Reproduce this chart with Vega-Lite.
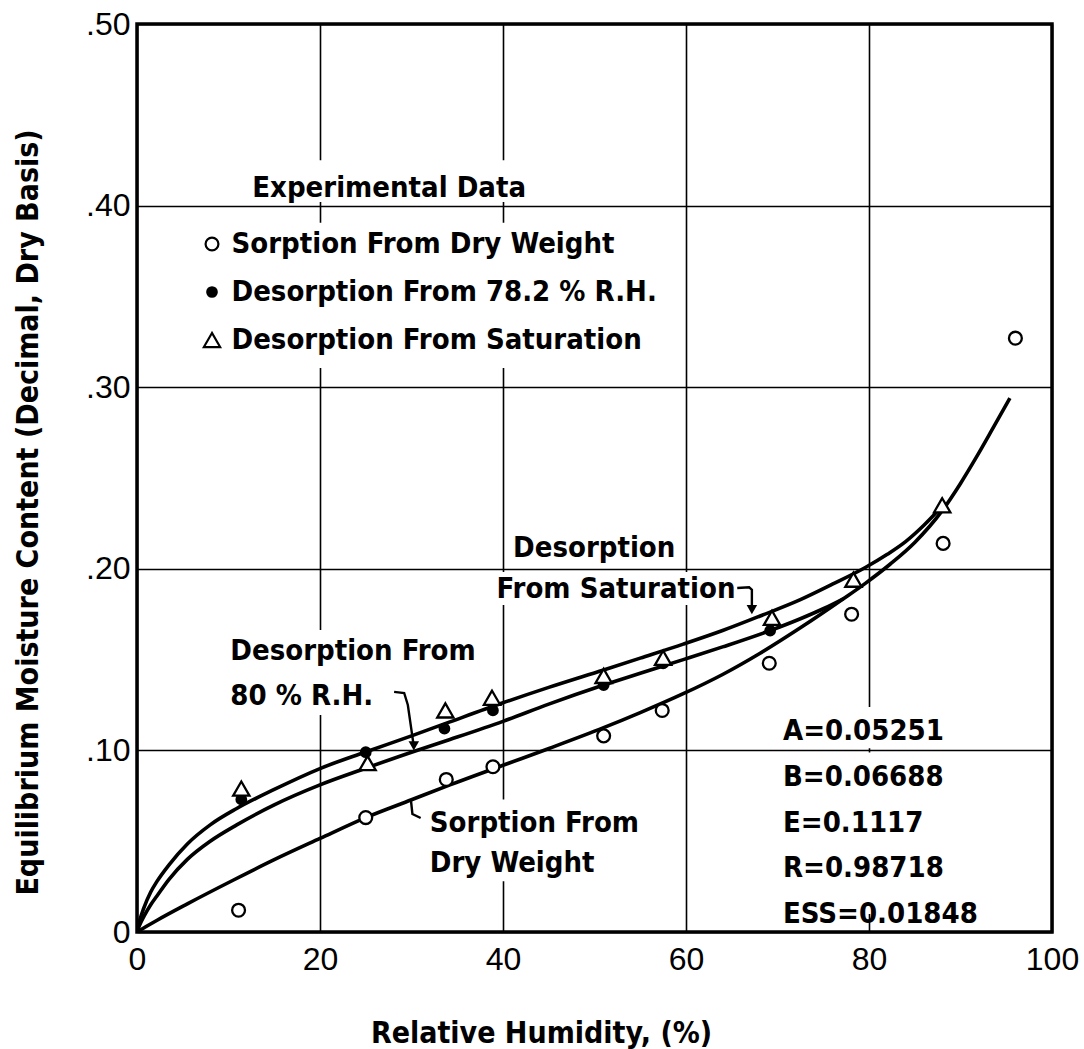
{
  "$schema": "https://vega.github.io/schema/vega-lite/v6.json",
  "width": 915,
  "height": 908,
  "autosize": {"type": "none"},
  "padding": {"left": 137, "top": 24, "right": 32, "bottom": 117},
  "background": "white",
  "datasets": {
    "obs": [
      {"series": "Sorption From Dry Weight", "rh": 11.1, "emc": 0.012},
      {"series": "Sorption From Dry Weight", "rh": 25.0, "emc": 0.063},
      {"series": "Sorption From Dry Weight", "rh": 33.8, "emc": 0.084},
      {"series": "Sorption From Dry Weight", "rh": 38.9, "emc": 0.091},
      {"series": "Sorption From Dry Weight", "rh": 51.0, "emc": 0.108},
      {"series": "Sorption From Dry Weight", "rh": 57.4, "emc": 0.122},
      {"series": "Sorption From Dry Weight", "rh": 69.1, "emc": 0.148},
      {"series": "Sorption From Dry Weight", "rh": 78.1, "emc": 0.175},
      {"series": "Sorption From Dry Weight", "rh": 88.1, "emc": 0.214},
      {"series": "Sorption From Dry Weight", "rh": 96.0, "emc": 0.327},
      {"series": "Desorption From 78.2 % R.H.", "rh": 11.4, "emc": 0.073},
      {"series": "Desorption From 78.2 % R.H.", "rh": 25.0, "emc": 0.099},
      {"series": "Desorption From 78.2 % R.H.", "rh": 33.6, "emc": 0.112},
      {"series": "Desorption From 78.2 % R.H.", "rh": 38.9, "emc": 0.122},
      {"series": "Desorption From 78.2 % R.H.", "rh": 51.0, "emc": 0.136},
      {"series": "Desorption From 78.2 % R.H.", "rh": 57.5, "emc": 0.148},
      {"series": "Desorption From 78.2 % R.H.", "rh": 69.2, "emc": 0.166},
      {"series": "Desorption From Saturation", "rh": 11.4, "emc": 0.079},
      {"series": "Desorption From Saturation", "rh": 25.2, "emc": 0.093},
      {"series": "Desorption From Saturation", "rh": 33.7, "emc": 0.122},
      {"series": "Desorption From Saturation", "rh": 38.8, "emc": 0.129},
      {"series": "Desorption From Saturation", "rh": 51.0, "emc": 0.141},
      {"series": "Desorption From Saturation", "rh": 57.5, "emc": 0.151},
      {"series": "Desorption From Saturation", "rh": 69.4, "emc": 0.173},
      {"series": "Desorption From Saturation", "rh": 78.3, "emc": 0.194},
      {"series": "Desorption From Saturation", "rh": 88.0, "emc": 0.235}
    ],
    "curves": [
      {"curve": "sorption", "rh": 0, "emc": 0},
      {"curve": "sorption", "rh": 1, "emc": 0.003},
      {"curve": "sorption", "rh": 2.2, "emc": 0.0065},
      {"curve": "sorption", "rh": 5.5, "emc": 0.0155},
      {"curve": "sorption", "rh": 10.5, "emc": 0.0285},
      {"curve": "sorption", "rh": 15, "emc": 0.0398},
      {"curve": "sorption", "rh": 20, "emc": 0.0515},
      {"curve": "sorption", "rh": 25, "emc": 0.063},
      {"curve": "sorption", "rh": 30, "emc": 0.0728},
      {"curve": "sorption", "rh": 34.2, "emc": 0.081},
      {"curve": "sorption", "rh": 40, "emc": 0.0918},
      {"curve": "sorption", "rh": 45.1, "emc": 0.1012},
      {"curve": "sorption", "rh": 51, "emc": 0.1125},
      {"curve": "sorption", "rh": 55, "emc": 0.1208},
      {"curve": "sorption", "rh": 59.7, "emc": 0.1312},
      {"curve": "sorption", "rh": 64, "emc": 0.1418},
      {"curve": "sorption", "rh": 68.1, "emc": 0.1535},
      {"curve": "sorption", "rh": 72.5, "emc": 0.1675},
      {"curve": "sorption", "rh": 77.2, "emc": 0.1835},
      {"curve": "sorption", "rh": 79.6, "emc": 0.192},
      {"curve": "sorption", "rh": 82.3, "emc": 0.2025},
      {"curve": "sorption", "rh": 85, "emc": 0.2145},
      {"curve": "sorption", "rh": 88, "emc": 0.232},
      {"curve": "sorption", "rh": 90, "emc": 0.247},
      {"curve": "sorption", "rh": 91.8, "emc": 0.262},
      {"curve": "sorption", "rh": 93.5, "emc": 0.277},
      {"curve": "sorption", "rh": 95.4, "emc": 0.294},
      {"curve": "saturation", "rh": 0, "emc": 0},
      {"curve": "saturation", "rh": 0.3, "emc": 0.0065},
      {"curve": "saturation", "rh": 0.73, "emc": 0.013},
      {"curve": "saturation", "rh": 1.5, "emc": 0.022},
      {"curve": "saturation", "rh": 2.2, "emc": 0.028},
      {"curve": "saturation", "rh": 3.5, "emc": 0.037},
      {"curve": "saturation", "rh": 5.5, "emc": 0.0485},
      {"curve": "saturation", "rh": 8, "emc": 0.059},
      {"curve": "saturation", "rh": 10.9, "emc": 0.068},
      {"curve": "saturation", "rh": 15, "emc": 0.0785},
      {"curve": "saturation", "rh": 20, "emc": 0.09},
      {"curve": "saturation", "rh": 24.9, "emc": 0.099},
      {"curve": "saturation", "rh": 30, "emc": 0.108},
      {"curve": "saturation", "rh": 34.2, "emc": 0.1157},
      {"curve": "saturation", "rh": 40, "emc": 0.1262},
      {"curve": "saturation", "rh": 45, "emc": 0.1347},
      {"curve": "saturation", "rh": 51, "emc": 0.1443},
      {"curve": "saturation", "rh": 55, "emc": 0.1508},
      {"curve": "saturation", "rh": 59.7, "emc": 0.1585},
      {"curve": "saturation", "rh": 64, "emc": 0.166},
      {"curve": "saturation", "rh": 68.1, "emc": 0.174},
      {"curve": "saturation", "rh": 72.5, "emc": 0.183},
      {"curve": "saturation", "rh": 76, "emc": 0.1915},
      {"curve": "saturation", "rh": 79.6, "emc": 0.2007},
      {"curve": "saturation", "rh": 82, "emc": 0.208},
      {"curve": "saturation", "rh": 84, "emc": 0.215},
      {"curve": "saturation", "rh": 86, "emc": 0.224},
      {"curve": "saturation", "rh": 88, "emc": 0.2345},
      {"curve": "desorption80", "rh": 0, "emc": 0},
      {"curve": "desorption80", "rh": 0.3, "emc": 0.004},
      {"curve": "desorption80", "rh": 0.8, "emc": 0.009},
      {"curve": "desorption80", "rh": 1.5, "emc": 0.015},
      {"curve": "desorption80", "rh": 2.2, "emc": 0.02},
      {"curve": "desorption80", "rh": 3.5, "emc": 0.029},
      {"curve": "desorption80", "rh": 5.5, "emc": 0.04},
      {"curve": "desorption80", "rh": 8, "emc": 0.05},
      {"curve": "desorption80", "rh": 10.9, "emc": 0.059},
      {"curve": "desorption80", "rh": 15, "emc": 0.07},
      {"curve": "desorption80", "rh": 20, "emc": 0.081},
      {"curve": "desorption80", "rh": 24.9, "emc": 0.09},
      {"curve": "desorption80", "rh": 30, "emc": 0.099},
      {"curve": "desorption80", "rh": 34.2, "emc": 0.106},
      {"curve": "desorption80", "rh": 40, "emc": 0.116},
      {"curve": "desorption80", "rh": 45, "emc": 0.1255},
      {"curve": "desorption80", "rh": 51, "emc": 0.136},
      {"curve": "desorption80", "rh": 55, "emc": 0.1425},
      {"curve": "desorption80", "rh": 59.7, "emc": 0.15},
      {"curve": "desorption80", "rh": 64, "emc": 0.157},
      {"curve": "desorption80", "rh": 69.2, "emc": 0.166},
      {"curve": "desorption80", "rh": 72.5, "emc": 0.1725},
      {"curve": "desorption80", "rh": 75, "emc": 0.178},
      {"curve": "desorption80", "rh": 77.2, "emc": 0.1835}
    ],
    "leaders": [
      {"leader": "saturation", "step": 1, "rh": 65.6, "emc": 0.1894},
      {"leader": "saturation", "step": 2, "rh": 66.9, "emc": 0.1898},
      {"leader": "saturation", "step": 3, "rh": 67.2, "emc": 0.1885},
      {"leader": "saturation", "step": 4, "rh": 67.2, "emc": 0.179},
      {"leader": "rh80", "step": 1, "rh": 28.1, "emc": 0.1322},
      {"leader": "rh80", "step": 2, "rh": 29.2, "emc": 0.1316},
      {"leader": "rh80", "step": 3, "rh": 29.6, "emc": 0.125},
      {"leader": "rh80", "step": 4, "rh": 30.2, "emc": 0.104},
      {"leader": "dry", "step": 1, "rh": 31.0, "emc": 0.0628},
      {"leader": "dry", "step": 2, "rh": 30.1, "emc": 0.065},
      {"leader": "dry", "step": 3, "rh": 29.95, "emc": 0.072}
    ],
    "heads": [
      {"leader": "saturation", "rh": 67.2, "emc": 0.1775},
      {"leader": "rh80", "rh": 30.25, "emc": 0.1025}
    ],
    "one": [{}]
  },
  "layer": [
    {
      "data": {"name": "one"},
      "mark": {"type": "rect", "fill": "white"},
      "encoding": {"x": {"datum": 11.8}, "x2": {"datum": 43.5}, "y": {"datum": 0.402}, "y2": {"datum": 0.425}}
    },
    {
      "data": {"name": "one"},
      "mark": {"type": "rect", "fill": "white"},
      "encoding": {"x": {"datum": 6.5}, "x2": {"datum": 59}, "y": {"datum": 0.3106}, "y2": {"datum": 0.3905}}
    },
    {
      "data": {"name": "one"},
      "mark": {"type": "rect", "fill": "white"},
      "encoding": {"x": {"datum": 39.1}, "x2": {"datum": 65.9}, "y": {"datum": 0.18}, "y2": {"datum": 0.1982}}
    },
    {
      "data": {"name": "one"},
      "mark": {"type": "rect", "fill": "white"},
      "encoding": {"x": {"datum": 9.6}, "x2": {"datum": 36.5}, "y": {"datum": 0.1195}, "y2": {"datum": 0.1663}}
    },
    {
      "data": {"name": "one"},
      "mark": {"type": "rect", "fill": "white"},
      "encoding": {"x": {"datum": 31.5}, "x2": {"datum": 54}, "y": {"datum": 0.028}, "y2": {"datum": 0.073}}
    },
    {
      "data": {"name": "one"},
      "mark": {"type": "rect", "fill": "white"},
      "encoding": {"x": {"datum": 70.3}, "x2": {"datum": 92.7}, "y": {"datum": 0.1012}, "y2": {"datum": 0.1239}}
    },
    {
      "data": {"name": "one"},
      "mark": {"type": "rect", "fill": "white"},
      "encoding": {"x": {"datum": 70.3}, "x2": {"datum": 92.7}, "y": {"datum": 0.0099}, "y2": {"datum": 0.0988}}
    },
    {
      "data": {"name": "curves"},
      "mark": {"type": "line", "color": "black", "strokeWidth": 3.6, "interpolate": "monotone", "clip": true},
      "encoding": {
        "x": {"field": "rh", "type": "quantitative"},
        "y": {"field": "emc", "type": "quantitative"},
        "detail": {"field": "curve"}
      }
    },
    {
      "data": {"name": "leaders"},
      "mark": {"type": "line", "color": "black", "strokeWidth": 2.4, "interpolate": "linear"},
      "encoding": {
        "x": {"field": "rh", "type": "quantitative"},
        "y": {"field": "emc", "type": "quantitative"},
        "detail": {"field": "leader"},
        "order": {"field": "step"}
      }
    },
    {
      "data": {"name": "heads"},
      "mark": {"type": "point", "shape": "triangle-down", "filled": true, "color": "black", "size": 110, "opacity": 1},
      "encoding": {
        "x": {"field": "rh", "type": "quantitative"},
        "y": {"field": "emc", "type": "quantitative"}
      }
    },
    {
      "data": {"name": "obs"},
      "mark": {"type": "point", "filled": true, "strokeWidth": 2.3, "opacity": 1},
      "encoding": {
        "x": {
          "field": "rh", "type": "quantitative", "title": "Relative Humidity, (%)",
          "scale": {"domain": [0, 100], "nice": false},
          "axis": {"values": [0, 20, 40, 60, 80, 100]}
        },
        "y": {
          "field": "emc", "type": "quantitative", "title": "Equilibrium Moisture Content (Decimal, Dry Basis)",
          "scale": {"domain": [0, 0.5], "nice": false},
          "axis": {
            "values": [0, 0.1, 0.2, 0.3, 0.4, 0.5],
            "labelExpr": "datum.value == 0 ? '0' : replace(format(datum.value, '.2f'), '0.', '.')"
          }
        },
        "shape": {
          "field": "series", "type": "nominal",
          "scale": {"domain": ["Sorption From Dry Weight", "Desorption From 78.2 % R.H.", "Desorption From Saturation"], "range": ["circle", "circle", "triangle-up"]},
          "legend": {"title": null}
        },
        "fill": {
          "field": "series", "type": "nominal",
          "scale": {"domain": ["Sorption From Dry Weight", "Desorption From 78.2 % R.H.", "Desorption From Saturation"], "range": ["white", "black", "white"]},
          "legend": {"title": null}
        },
        "stroke": {
          "field": "series", "type": "nominal",
          "scale": {"domain": ["Sorption From Dry Weight", "Desorption From 78.2 % R.H.", "Desorption From Saturation"], "range": ["black", "black", "black"]},
          "legend": {"title": null}
        },
        "size": {
          "field": "series", "type": "nominal",
          "scale": {"type": "ordinal", "domain": ["Sorption From Dry Weight", "Desorption From 78.2 % R.H.", "Desorption From Saturation"], "range": [165, 90, 265]},
          "legend": {"title": null}
        }
      }
    },
    {
      "data": {"name": "one"},
      "mark": {"type": "text", "text": "Experimental Data", "align": "left", "baseline": "alphabetic", "font": "DejaVu Sans Condensed, sans-serif", "fontWeight": "bold", "fontSize": 29, "color": "black"},
      "encoding": {"x": {"datum": 12.6}, "y": {"datum": 0.4047}}
    },
    {
      "data": {"name": "one"},
      "mark": {"type": "text", "text": "Desorption", "align": "left", "baseline": "alphabetic", "font": "DejaVu Sans Condensed, sans-serif", "fontWeight": "bold", "fontSize": 29, "color": "black"},
      "encoding": {"x": {"datum": 41.1}, "y": {"datum": 0.2065}}
    },
    {
      "data": {"name": "one"},
      "mark": {"type": "text", "text": "From Saturation", "align": "left", "baseline": "alphabetic", "font": "DejaVu Sans Condensed, sans-serif", "fontWeight": "bold", "fontSize": 29, "color": "black"},
      "encoding": {"x": {"datum": 39.3}, "y": {"datum": 0.1839}}
    },
    {
      "data": {"name": "one"},
      "mark": {"type": "text", "text": ["Desorption From", "80 % R.H."], "lineHeight": 45, "align": "left", "baseline": "alphabetic", "font": "DejaVu Sans Condensed, sans-serif", "fontWeight": "bold", "fontSize": 29, "color": "black"},
      "encoding": {"x": {"datum": 10.2}, "y": {"datum": 0.1498}}
    },
    {
      "data": {"name": "one"},
      "mark": {"type": "text", "text": ["Sorption From", "Dry Weight"], "lineHeight": 40, "align": "left", "baseline": "alphabetic", "font": "DejaVu Sans Condensed, sans-serif", "fontWeight": "bold", "fontSize": 29, "color": "black"},
      "encoding": {"x": {"datum": 32.0}, "y": {"datum": 0.0551}}
    },
    {
      "data": {"name": "one"},
      "mark": {"type": "text", "text": ["A=0.05251", "B=0.06688", "E=0.1117", "R=0.98718", "ESS=0.01848"], "lineHeight": 45.75, "align": "left", "baseline": "alphabetic", "font": "DejaVu Sans Condensed, sans-serif", "fontWeight": "bold", "fontSize": 29, "color": "black"},
      "encoding": {"x": {"datum": 70.6}, "y": {"datum": 0.1057}}
    }
  ],
  "config": {
    "view": {"stroke": "black", "strokeWidth": 3.5},
    "axis": {
      "grid": true,
      "gridColor": "black",
      "gridWidth": 1.6,
      "gridOpacity": 1,
      "ticks": false,
      "domain": false,
      "labelColor": "black",
      "labelFont": "Liberation Sans, sans-serif",
      "labelFontSize": 32,
      "titleColor": "black",
      "titleFont": "DejaVu Sans Condensed, sans-serif",
      "titleFontWeight": "bold",
      "titleFontSize": 30
    },
    "axisX": {
      "labelPadding": 12,
      "labelFlush": false,
      "titleX": 404,
      "titleY": 110,
      "titleAnchor": null,
      "titleAlign": "center",
      "titleBaseline": "alphabetic"
    },
    "axisY": {
      "labelPadding": 7,
      "labelFlush": false,
      "titleX": -109,
      "titleY": 488,
      "titleAngle": 270,
      "titleAnchor": null,
      "titleAlign": "center",
      "titleBaseline": "middle"
    },
    "legend": {
      "orient": "none",
      "legendX": 60.5,
      "legendY": 205.5,
      "padding": 0,
      "labelFont": "DejaVu Sans Condensed, sans-serif",
      "labelFontWeight": "bold",
      "labelFontSize": 29,
      "labelColor": "black",
      "labelOffset": 5,
      "labelLimit": 0,
      "rowPadding": 18,
      "symbolStrokeWidth": 2.2
    }
  }
}
